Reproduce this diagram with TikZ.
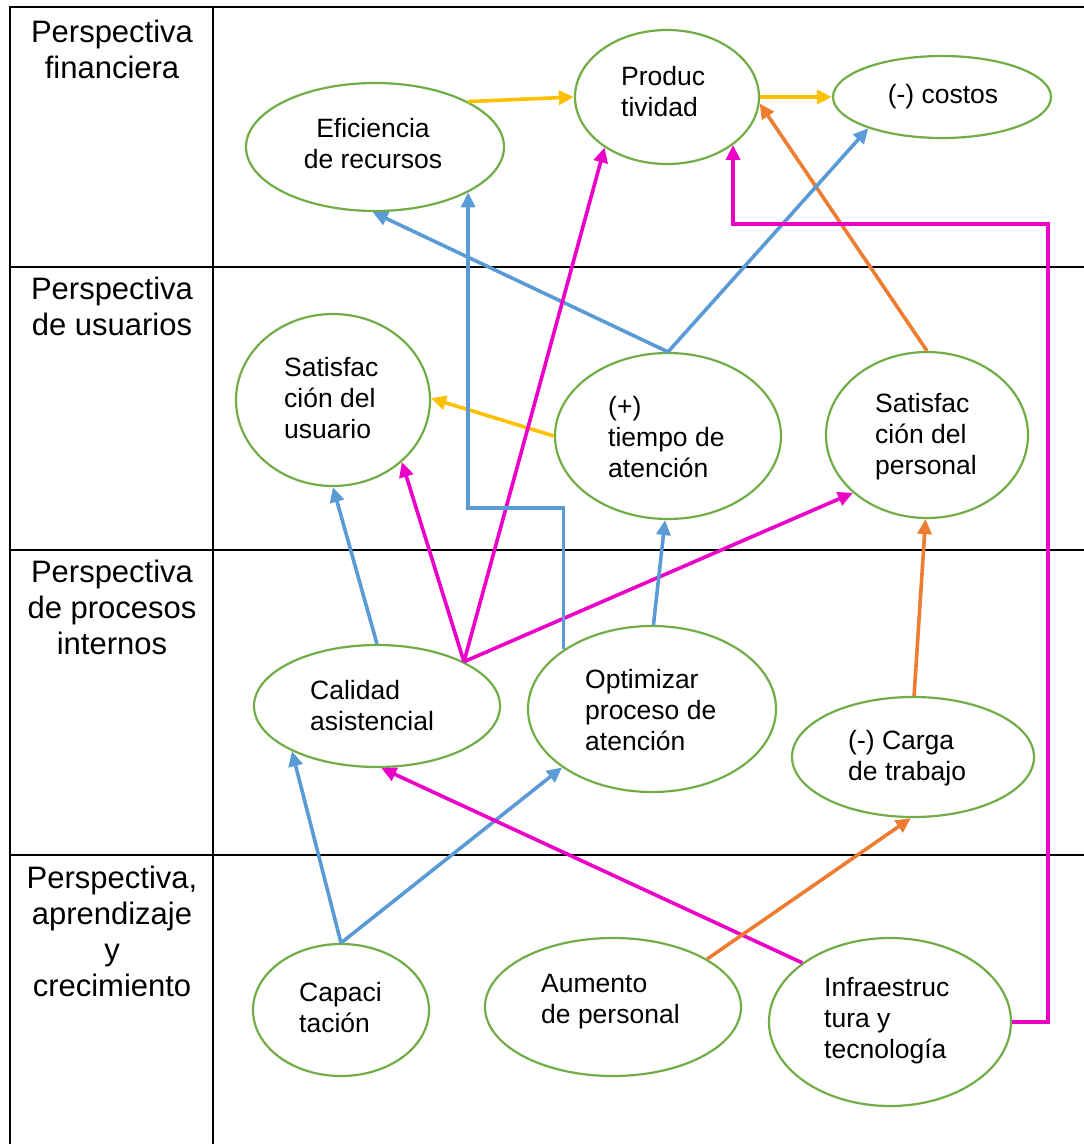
\documentclass[tikz,border=0pt]{standalone}
\usepackage{fontspec}
\setmainfont{Liberation Sans}
\usetikzlibrary{shapes.geometric,arrows.meta}
\definecolor{egreen}{RGB}{112,173,71}
\definecolor{cblue}{RGB}{91,155,213}
\definecolor{corange}{RGB}{237,125,49}
\definecolor{cgold}{RGB}{255,192,0}
\definecolor{cmag}{RGB}{236,0,200}
\tikzset{
  ell/.style={draw=egreen, line width=2.2pt, ellipse, inner sep=0pt},
  txt/.style={font=\fontsize{26.5}{31}\selectfont, align=left, anchor=west, inner sep=0pt},
  lab/.style={font=\fontsize{31}{36}\selectfont, align=center, anchor=north, inner sep=0pt},
  tableline/.style={line width=2pt, black},
  conn/.style={line width=3.6pt, -{Triangle[length=15pt,width=14pt]}},
  bluearrow/.style={conn, draw=cblue},
  orangearrow/.style={conn, draw=corange},
  goldarrow/.style={conn, draw=cgold},
  magarrow/.style={conn, draw=cmag}
}
\begin{document}
\begin{tikzpicture}[x=1pt,y=-1pt]
\useasboundingbox (0,0) rectangle (1084,1144);
% table
\draw[tableline] (1084,7) -- (10,7) -- (10,1144);
\draw[tableline] (213,7) -- (213,1144);
\foreach \yy in {267,550,855} \draw[tableline] (10,\yy) -- (1084,\yy);
% row labels
\node[lab] (L1) at (112,20) {Perspectiva\\financiera};
\node[lab] (L2) at (112,277) {Perspectiva\\de usuarios};
\node[lab] (L3) at (112,560) {Perspectiva\\de procesos\\internos};
\node[lab] (L4) at (112,866) {Perspectiva,\\aprendizaje\\y\\crecimiento};
% ellipses
\node[ell, minimum width=258pt, minimum height=128pt] (E) at (375,147) {};
\node[ell, minimum width=184pt, minimum height=134pt] (P) at (667,97) {};
\node[ell, minimum width=218pt, minimum height=82pt] (C) at (942,97) {};
\node[ell, minimum width=194pt, minimum height=172pt] (U) at (333,400) {};
\node[ell, minimum width=226pt, minimum height=166pt] (T) at (668,436) {};
\node[ell, minimum width=202pt, minimum height=166pt] (S) at (927,435) {};
\node[ell, minimum width=246pt, minimum height=122pt] (Q) at (377,706) {};
\node[ell, minimum width=248pt, minimum height=166pt] (O) at (652,709) {};
\node[ell, minimum width=242pt, minimum height=120pt] (K) at (913,757) {};
\node[ell, minimum width=176pt, minimum height=132pt] (A) at (341,1010) {};
\node[ell, minimum width=256pt, minimum height=138pt] (M) at (613,1007) {};
\node[ell, minimum width=242pt, minimum height=168pt] (I) at (890,1022) {};
% texts
\node[txt, anchor=center, align=center] (tE) at (373,144) {Eficiencia\\de recursos};
\node[txt] (tP) at (621,92) {Produc\\tividad};
\node[txt, anchor=center] (tC) at (943,97) {(-) costos};
\node[txt] (tU) at (284,398) {Satisfac\\ción del\\usuario};
\node[txt] (tT) at (608,437) {(+)\\tiempo de\\atención};
\node[txt] (tS) at (875,437) {Satisfac\\ción del\\personal};
\node[txt] (tQ) at (310,706) {Calidad\\asistencial};
\node[txt] (tO) at (585,710) {Optimizar\\proceso de\\atención};
\node[txt] (tK) at (848,758) {(-) Carga\\de trabajo};
\node[txt] (tA) at (299,1008) {Capaci\\tación};
\node[txt] (tM) at (541,1002) {Aumento\\de personal};
\node[txt] (tI) at (824,1021) {Infraestruc\\tura y\\tecnología};
% helper coordinates
\coordinate (ymark) at (0,508);
\coordinate (magR) at (1048,224);
% connectors
\draw[goldarrow] (E.26) -- (P.180);
\draw[goldarrow] (P.0) -- (C.180);
\draw[goldarrow] (T.180) -- (U.1);
\draw[orangearrow] (S.90) -- (P.356);
\draw[bluearrow] (T.90) -- (C.203);
\draw[bluearrow] (T.90) -- (E.268);
\draw[magarrow] (Q.27) -- (P.219);
\draw[magarrow] (Q.27) -- (U.318);
\draw[magarrow] (Q.27) -- (S.218);
\draw[bluearrow] (Q.90) -- (U.270);
\draw[bluearrow] (O.146) |- (E.334 |- ymark) -- (E.334);
\draw[bluearrow] (O.89) -- (T.268);
\draw[bluearrow] (A.90) -- (Q.208);
\draw[bluearrow] (A.90) -- (O.213);
\draw[magarrow] (I.146) -- (Q.274);
\draw[orangearrow] (M.27) -- (K.268);
\draw[orangearrow] (K.89) -- (S.269);
\draw[magarrow] (I.0) -| (magR) -| (P.324);
\end{tikzpicture}
\end{document}
